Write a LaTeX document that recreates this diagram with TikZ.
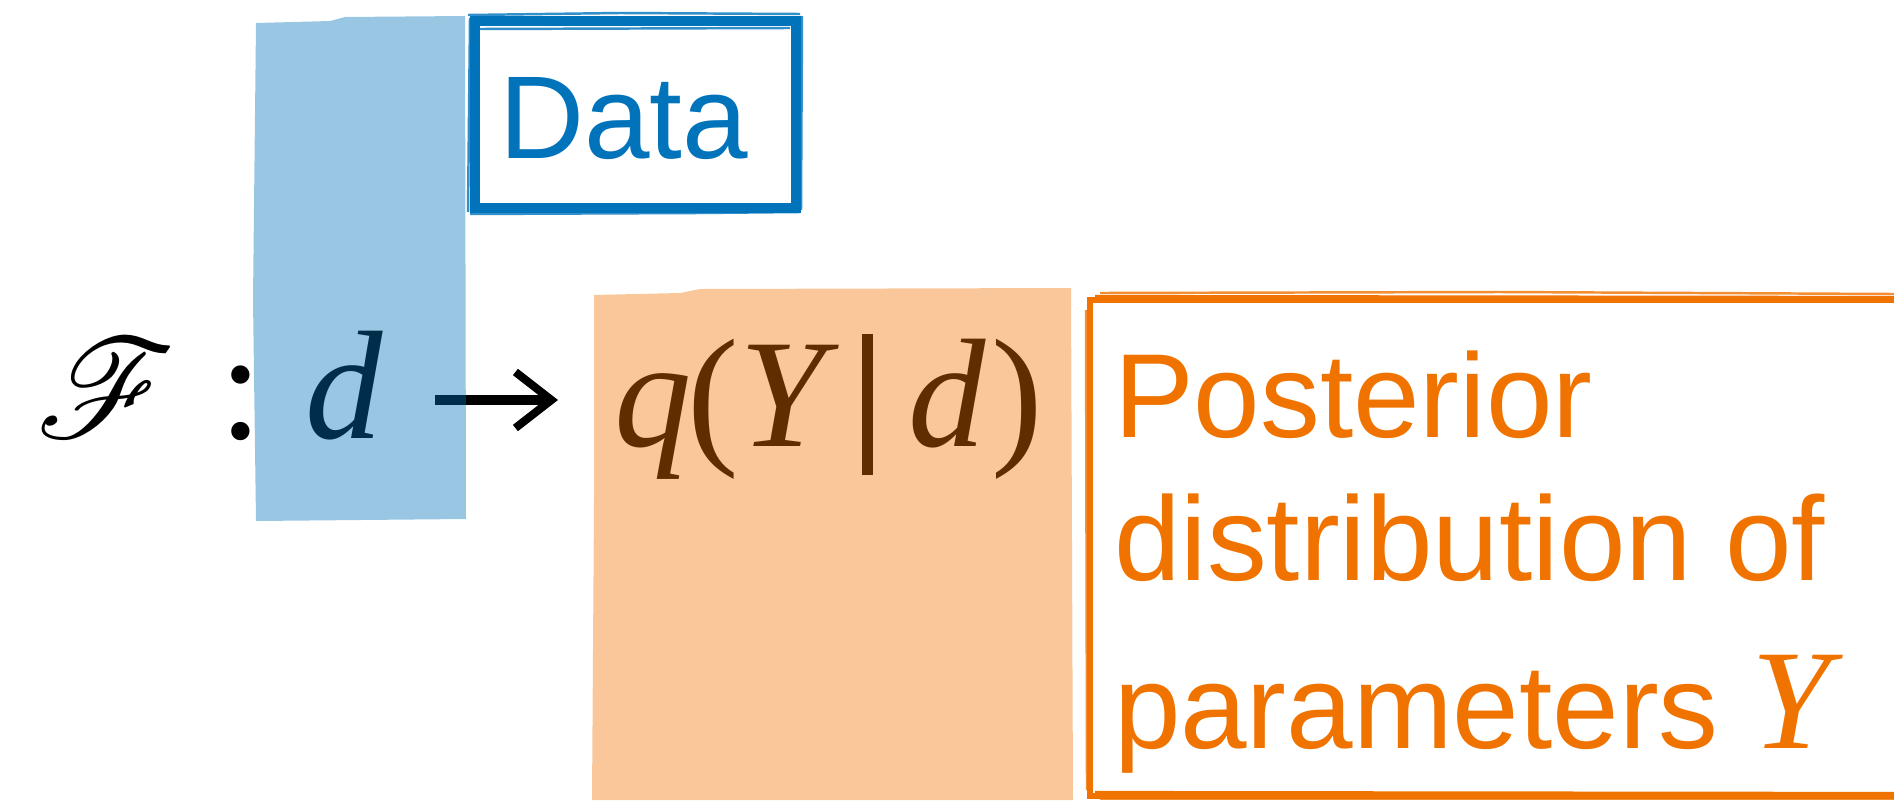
\documentclass[tikz,border=0pt]{standalone}
\usepackage{fontspec}
\setmainfont{Liberation Sans}
\newfontfamily\tms{Liberation Serif}
\usepackage{mathrsfs}
\usetikzlibrary{arrows.meta}
\definecolor{dblue}{HTML}{0073BB}
\definecolor{fblue}{HTML}{0072B8}
\definecolor{dorange}{HTML}{F07300}
\definecolor{forange}{HTML}{EF7200}
\tikzset{
  txt/.style={inner sep=0pt, outer sep=0pt, anchor=base west},
  mathtxt/.style={txt, font=\fontsize{44}{44}\selectfont\tms},
  labeltxt/.style={txt, font=\fontsize{34}{40}\selectfont},
  paintfill/.style={fill opacity=0.4},
  maparrow/.style={line width=3.1pt, -{Straight Barb[length=3.6mm,width=5.6mm,line width=2.3pt]}},
  bluebox/.style={draw=dblue, line width=2.7pt},
  bluefringe/.style={draw=dblue, line width=0.7pt, opacity=0.8},
  orangebox/.style={draw=dorange, line width=1.6pt},
  orangefringe/.style={draw=dorange, line width=0.7pt, opacity=0.8},
}
\begin{document}
\begin{tikzpicture}[x=0.01cm,y=-0.01cm]
\useasboundingbox (0,0) rectangle (1894,800);
\clip (0,0) rectangle (1894,800);

% formula (black, later tinted by the translucent paint)
\node[txt] (F) at (37,437) {\scalebox{3.85}[4.0]{$\mathscr{F}$}};
\node[mathtxt] (colon) at (219.5,438) {:};
\node[mathtxt] (dleft) at (305,438) {\itshape d};
\coordinate (arrfrom) at (435,400);
\coordinate (arrto) at (558,400);
\draw[maparrow] (arrfrom) -- (arrto);
\node[mathtxt] (qyd) at (614,446) {\itshape q\hspace{-1.1pt}\upshape(\itshape Y\hspace{10.5pt}\rule[-8.25pt]{3.1pt}{40.1pt}\hspace{10.2pt}d\hspace{1.4pt}\upshape)};

% blue paint strip
\fill[fblue, paintfill] (256,23) -- (330,21) -- (345,17) -- (465,16) -- (466,519) -- (256,521) -- (253,300) -- cycle;
% orange paint block
\fill[forange, paintfill] (594,295) -- (680,293) -- (700,289) -- (1071,288) -- (1073,800) -- (592,800) -- (594,500) -- cycle;

% Data frame
\draw[bluebox] (475,21) rectangle (796,208);
\draw[bluefringe] (468,15) -- (620,13) -- (800,14);
\draw[bluefringe] (480,29) -- (790,28);
\draw[bluefringe] (470,214) -- (700,213) -- (800,212);
\draw[bluefringe] (470,18) -- (468,212);
\draw[bluefringe] (802,16) -- (801,210);
\node[labeltxt, font=\fontsize{33.5}{40}\selectfont, text=dblue] (data) at (499,158) {Data};

% Posterior frame
\draw[orangebox] (1090,300) rectangle (1960,796);
\draw[dorange, line width=1.2pt] (1095,297) -- (1894,298);
\draw[dorange, line width=1.2pt] (1095,793) -- (1894,794);
\draw[orangefringe] (1100,293) -- (1500,292) -- (1894,294);
\draw[orangefringe] (1086,310) -- (1087,790);
\draw[orangefringe] (1100,799) -- (1894,799);
\node[labeltxt, text=dorange] (post1) at (1114,437) {Posterior};
\node[labeltxt, text=dorange] (post2) at (1114,580) {distribution of};
\node[labeltxt, text=dorange] (post3) at (1114,748) {parameters {\tms\itshape\fontsize{40.5}{40}\selectfont Y}};
\end{tikzpicture}
\end{document}
